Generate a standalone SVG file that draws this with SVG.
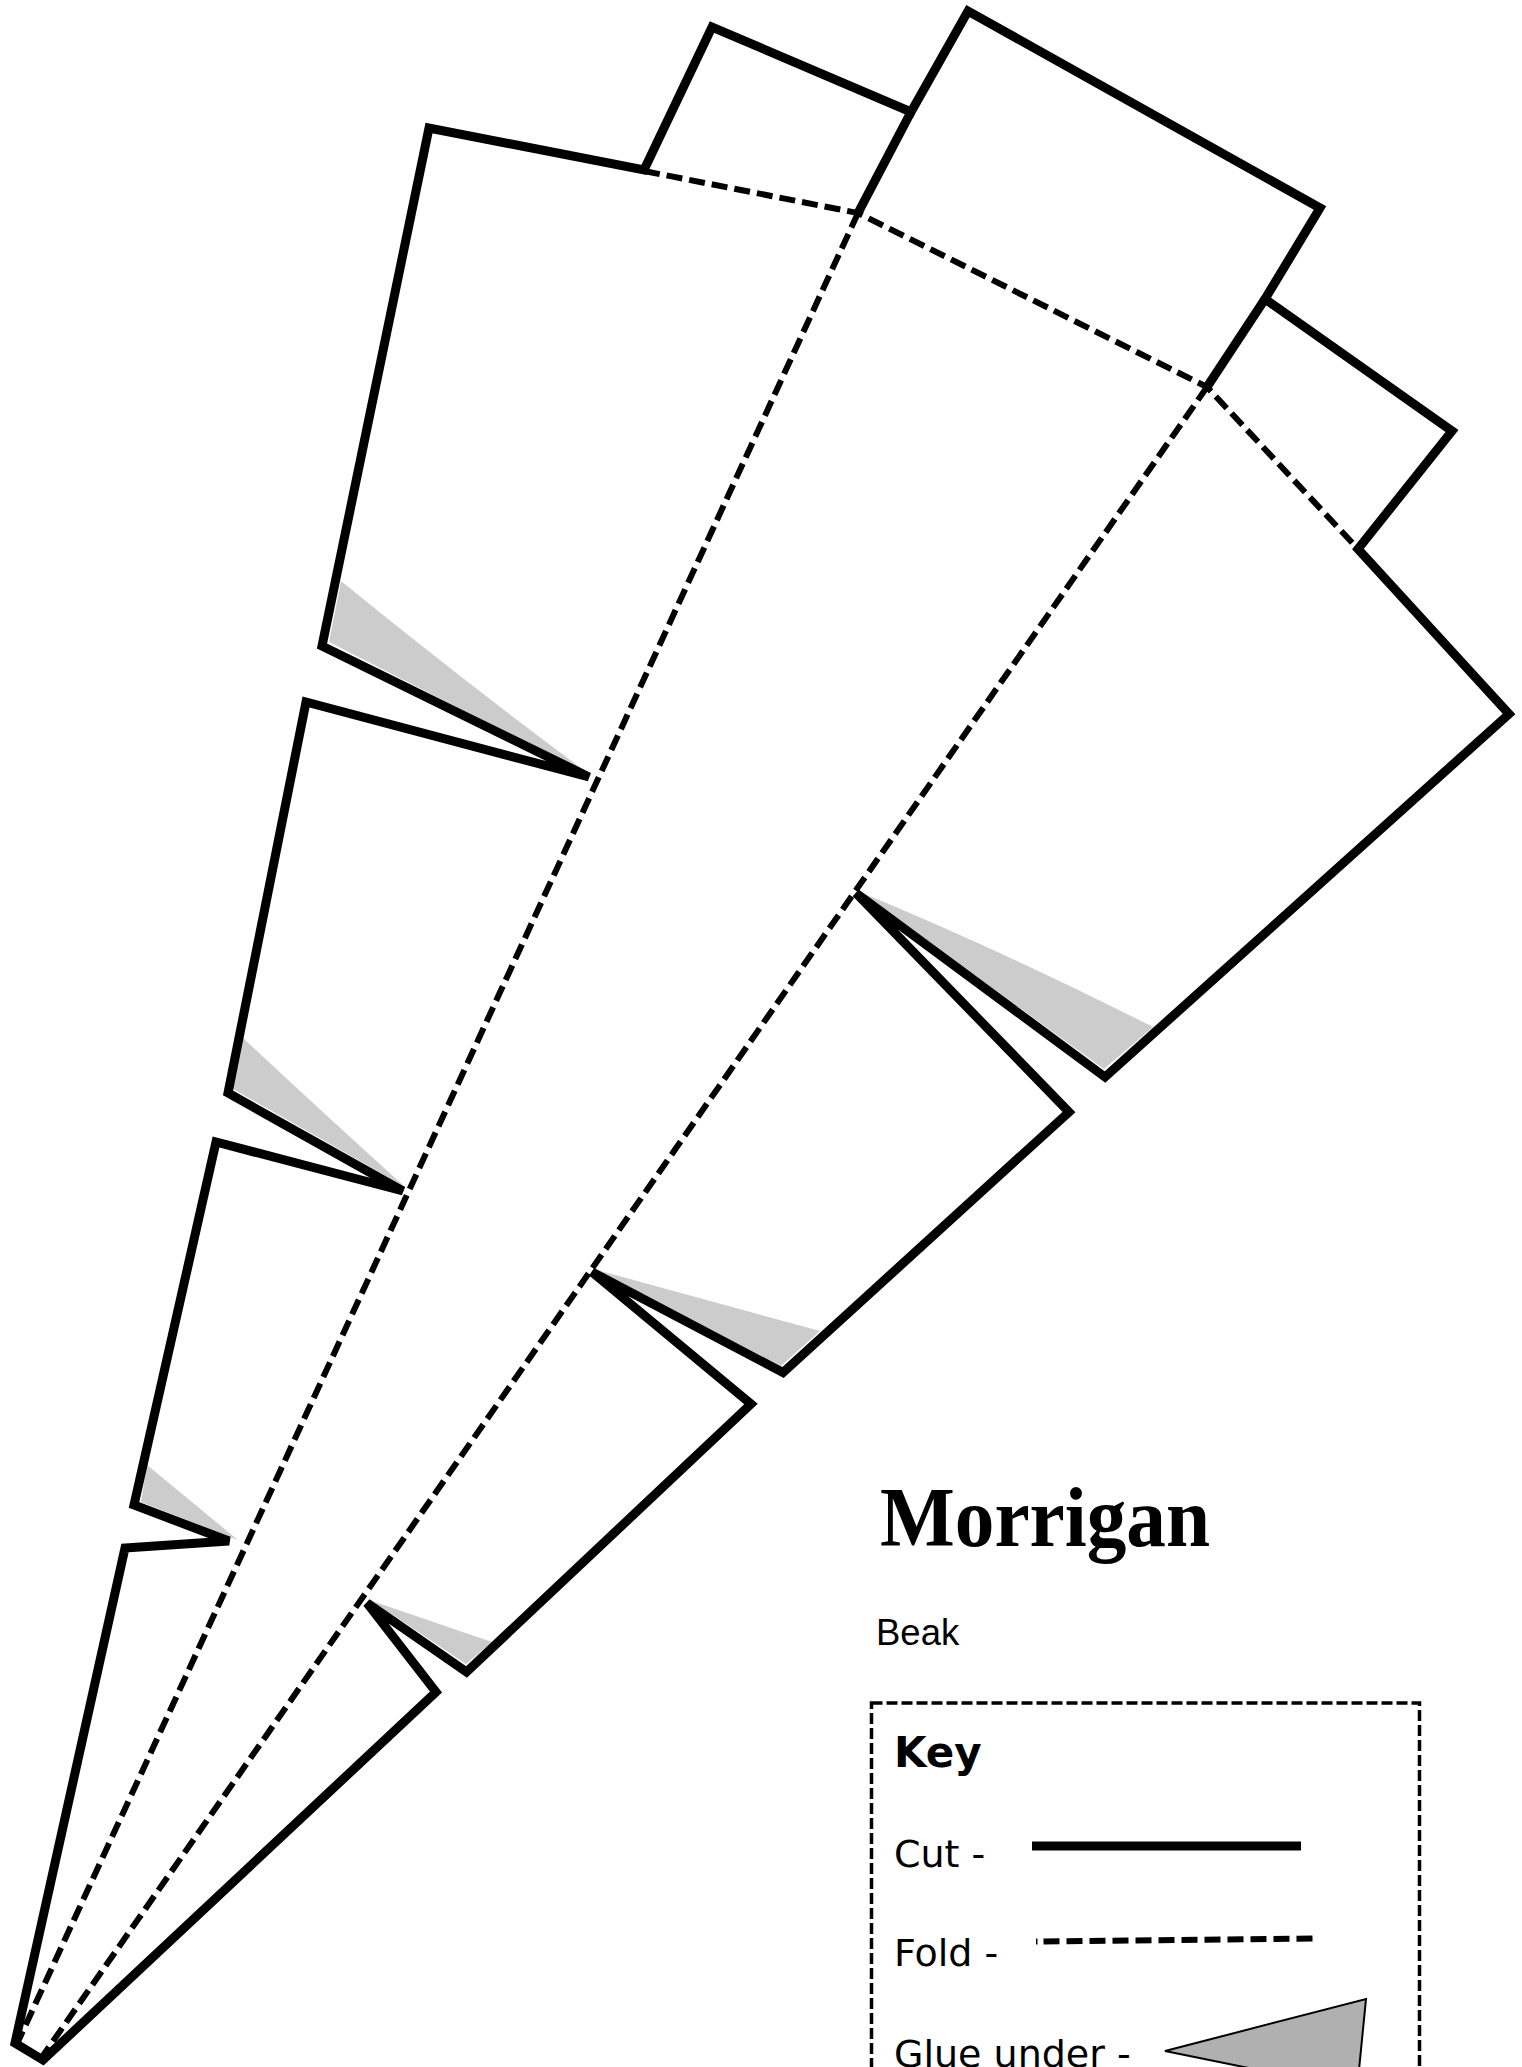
<svg xmlns="http://www.w3.org/2000/svg" width="1522" height="2067" viewBox="0 0 1522 2067">
<style>
.cut{fill:none;stroke:#000;stroke-width:9;stroke-linejoin:miter;stroke-miterlimit:4}
.fold{fill:none;stroke:#000;stroke-width:6;stroke-dasharray:16 7}
.glue{fill:#ccc;stroke:none}
.t{font-family:"DejaVu Sans",sans-serif;font-size:38px;fill:#000}
</style>
<rect width="1522" height="2067" fill="#fff"/>
<g id="glue-tabs">
<path class="glue" d="M341 581Q465 682 589 774L329 642Z"/>
<path class="glue" d="M242 1037Q320 1110 404 1186L233 1089Z"/>
<path class="glue" d="M147 1465L238 1540L141 1502Z"/>
<path class="glue" d="M860 892Q1005 952 1153 1027L1104 1069Z"/>
<path class="glue" d="M597 1270L820 1331L781 1366Z"/>
<path class="glue" d="M372 1601L492 1642L466 1664Z"/>
</g>
<g id="connectors">
<path class="fold" d="M644 171L858 213L1207 387L1358 549"/>
<path class="fold" d="M858 213L16 2046"/>
<path class="fold" d="M1207 387L42 2057"/>
</g>
<g id="pattern">
<path class="cut" d="M15 2043L125 1548L229 1541L134 1505L216 1142L403 1191L228 1093L306 702L589 777L322 646L429 128L644 170L712 27L911 112L968 11L1320 208L1265 299L1452 431L1358 549L1509 714L1105 1077L856 893L1069 1112L783 1372.5L592 1272L751 1404L466.5 1672L367 1603L436 1692L43 2060Z"/>
<path class="cut" d="M911 112L858 213M1265 299L1207 387"/>
</g>
<g id="title">
<text x="880" y="1546" font-family="'Liberation Serif',serif" font-weight="700" font-size="84" textLength="330" lengthAdjust="spacingAndGlyphs">Morrigan</text>
<text x="876" y="1645" font-family="'Liberation Sans',sans-serif" font-size="36.5">Beak</text>
</g>
<g id="key">
<rect x="871.5" y="1703" width="548" height="400" fill="none" stroke="#000" stroke-width="3.5" stroke-dasharray="11 4"/>
<text class="t" x="894" y="1767" font-weight="700" style="font-size:42px">Key</text>
<text class="t" x="894" y="1867">Cut -</text>
<text class="t" x="894" y="1966">Fold -</text>
<text class="t" x="894" y="2067">Glue under -</text>
<path d="M1032 1846H1301" fill="none" stroke="#000" stroke-width="9"/>
<path d="M1036 1941.5L1313 1938.5" fill="none" stroke="#000" stroke-width="6" stroke-dasharray="1.5 6 16 7 16 7 16 7 16 7 16 7 16 7 16 7 16 7 16 7 16 7 16 7 16 7"/>
<path d="M1165 2051L1366 1999L1357 2090Z" fill="#b0b0b0" stroke="#000" stroke-width="2"/>
</g>
</svg>
